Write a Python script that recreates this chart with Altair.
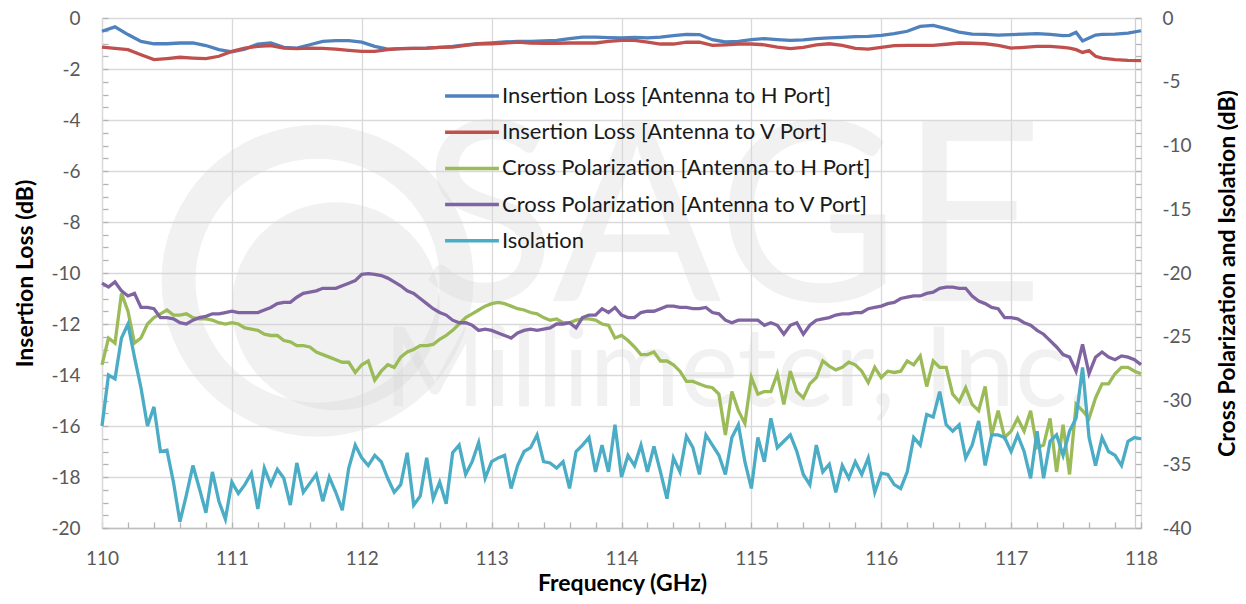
import altair as alt
import pandas as pd

# ---------------- data ----------------
SERIES = [
    "Insertion Loss [Antenna to H Port]",
    "Insertion Loss [Antenna to V Port]",
    "Cross Polarization [Antenna to H Port]",
    "Cross Polarization [Antenna to V Port]",
    "Isolation",
]
COLORS = ["#4F81BD", "#C0504D", "#9BBB59", "#8064A2", "#4BACC6"]

# insertion loss, left axis (dB)
IL_FREQ = [round(110 + 0.1 * i, 2) for i in range(75)] + [117.45, 117.5, 117.55, 117.6, 117.65, 117.7, 117.8, 117.9, 118.0]
IL_H = [
    -0.52, -0.35, -0.65, -0.92, -1.01, -1.01, -0.98, -0.98, -1.08, -1.24,
    -1.33, -1.22, -1.02, -0.98, -1.15, -1.18, -1.05, -0.92, -0.89, -0.89,
    -0.95, -1.11, -1.22, -1.20, -1.19, -1.18, -1.15, -1.11, -1.05, -1.01,
    -0.98, -0.94, -0.92, -0.92, -0.90, -0.88, -0.81, -0.75, -0.75, -0.77,
    -0.78, -0.76, -0.78, -0.75, -0.69, -0.64, -0.65, -0.85, -0.94, -0.92,
    -0.85, -0.81, -0.85, -0.88, -0.86, -0.81, -0.78, -0.76, -0.73, -0.72,
    -0.68, -0.61, -0.52, -0.33, -0.29, -0.42, -0.55, -0.63, -0.64, -0.67,
    -0.65, -0.63, -0.61, -0.64, -0.69,
    -0.68, -0.56, -0.90, -0.78, -0.67, -0.64, -0.63, -0.59, -0.50,
]
IL_V = [
    -1.14, -1.19, -1.24, -1.44, -1.63, -1.59, -1.54, -1.57, -1.59, -1.50,
    -1.31, -1.18, -1.11, -1.08, -1.18, -1.20, -1.18, -1.19, -1.22, -1.27,
    -1.31, -1.31, -1.24, -1.20, -1.19, -1.18, -1.15, -1.14, -1.07, -1.01,
    -1.01, -0.98, -0.95, -0.98, -0.99, -0.99, -0.98, -0.98, -0.98, -0.92,
    -0.88, -0.88, -0.95, -1.02, -1.02, -0.95, -0.95, -1.07, -1.05, -1.02,
    -1.02, -1.05, -1.14, -1.20, -1.15, -1.05, -1.01, -1.07, -1.19, -1.22,
    -1.15, -1.08, -1.07, -1.07, -1.07, -1.03, -0.98, -0.99, -1.01, -1.07,
    -1.18, -1.15, -1.11, -1.11, -1.15,
    -1.18, -1.24, -1.35, -1.28, -1.50, -1.57, -1.63, -1.66, -1.67,
]

# cross polarization and isolation, right axis (dB), 0.05 GHz steps
CP_FREQ = [round(110 + 0.05 * i, 2) for i in range(161)]
XPOL_H = [
    -27.2, -25.1, -25.5, -21.6, -23.0, -25.5, -25.1, -24.0, -23.5, -23.2,
    -22.9, -23.3, -23.3, -23.2, -23.5, -23.6, -23.6, -23.7, -23.9, -24.0,
    -23.9, -24.0, -24.3, -24.4, -24.5, -24.8, -24.9, -24.9, -25.3, -25.4,
    -25.7, -25.7, -25.8, -26.2, -26.4, -26.6, -26.8, -27.0, -27.0, -27.8,
    -27.2, -26.9, -28.4, -27.7, -27.2, -27.4, -26.6, -26.2, -26.0, -25.7,
    -25.7, -25.6, -25.2, -24.9, -24.5, -24.0, -23.5, -23.2, -22.9, -22.6,
    -22.4, -22.3, -22.4, -22.6, -22.8, -22.9, -23.1, -23.2, -23.5, -23.7,
    -23.6, -23.9, -23.9, -23.7, -23.6, -23.6, -23.7, -24.0, -24.1, -25.1,
    -24.9, -25.3, -25.8, -26.4, -26.4, -26.2, -26.9, -26.9, -27.2, -27.7,
    -28.5, -28.5, -28.7, -28.9, -29.0, -29.5, -32.7, -29.3, -30.8, -31.8,
    -28.2, -29.5, -29.3, -29.3, -27.9, -30.3, -27.7, -29.3, -29.8, -28.7,
    -28.2, -26.9, -27.3, -27.6, -27.4, -27.0, -27.2, -27.7, -28.6, -27.4,
    -28.2, -27.7, -27.8, -27.7, -26.9, -27.2, -26.5, -28.9, -26.9, -27.4,
    -27.4, -29.5, -30.1, -29.0, -30.3, -30.8, -28.9, -32.7, -30.8, -32.9,
    -32.4, -31.4, -32.4, -30.8, -33.7, -33.5, -31.4, -35.6, -31.9, -35.8,
    -30.3, -30.8, -31.4, -29.8, -28.7, -28.7, -27.9, -27.4, -27.4, -27.7,
    -27.9,
]
XPOL_V = [
    -20.8, -21.1, -20.7, -21.4, -21.8, -21.6, -22.7, -22.7, -22.8, -23.5,
    -23.5, -23.6, -23.9, -24.0, -23.7, -23.5, -23.4, -23.2, -23.2, -23.1,
    -23.0, -23.1, -23.1, -23.1, -23.1, -22.9, -22.7, -22.4, -22.3, -22.3,
    -21.9, -21.6, -21.5, -21.4, -21.2, -21.2, -21.2, -21.0, -20.8, -20.6,
    -20.1, -20.05, -20.1, -20.2, -20.4, -20.7, -21.0, -21.4, -21.6, -22.0,
    -22.4, -22.8, -23.1, -23.3, -23.7, -23.9, -23.9, -24.1, -24.5, -24.4,
    -24.5, -24.7, -24.9, -25.1, -24.7, -24.5, -24.4, -24.5, -24.4, -24.3,
    -24.0, -24.0, -23.9, -24.3, -23.5, -23.3, -23.3, -22.8, -23.1, -22.7,
    -23.3, -23.5, -23.5, -23.1, -23.0, -23.0, -22.8, -22.6, -22.6, -22.7,
    -22.7, -22.8, -22.8, -22.7, -23.1, -23.2, -23.7, -23.9, -23.7, -23.7,
    -23.7, -23.7, -24.1, -23.9, -24.1, -24.8, -24.1, -23.9, -24.8, -24.1,
    -23.7, -23.6, -23.5, -23.3, -23.2, -23.2, -23.1, -23.1, -22.8, -22.7,
    -22.6, -22.4, -22.3, -22.0, -21.9, -21.8, -21.8, -21.6, -21.5, -21.2,
    -21.1, -21.1, -21.2, -21.2, -21.8, -22.2, -22.4, -22.7, -22.8, -23.5,
    -23.5, -23.6, -23.9, -24.1, -24.5, -24.8, -25.3, -25.8, -26.4, -26.6,
    -27.7, -25.6, -27.9, -26.6, -26.2, -26.6, -26.8, -26.5, -26.6, -26.8,
    -27.2,
]
ISOLATION = [
    -32.0, -28.0, -28.3, -25.1, -24.0, -26.6, -29.0, -32.0, -30.5, -34.0,
    -33.9, -36.4, -39.5, -37.4, -35.1, -36.9, -38.8, -35.6, -37.9, -39.3,
    -36.4, -37.3, -36.6, -35.7, -38.5, -35.3, -36.6, -35.4, -36.1, -38.2,
    -34.9, -37.2, -36.5, -35.8, -37.9, -36.0, -37.2, -38.6, -35.3, -33.5,
    -34.5, -35.1, -34.3, -34.8, -36.1, -37.2, -36.6, -34.1, -38.2, -37.5,
    -34.5, -37.7, -36.4, -38.1, -34.1, -33.5, -35.8, -34.8, -33.3, -36.1,
    -34.8, -34.5, -34.3, -36.9, -35.1, -34.0, -33.7, -32.7, -34.8, -34.9,
    -35.3, -34.8, -36.9, -34.0, -33.5, -32.9, -35.6, -33.5, -35.6, -31.9,
    -36.0, -34.3, -35.1, -33.5, -35.6, -33.6, -35.6, -37.7, -34.5, -35.6,
    -32.8, -33.7, -35.8, -32.7, -33.5, -34.3, -35.8, -32.9, -31.9, -34.8,
    -36.9, -32.9, -34.8, -31.4, -33.7, -33.2, -32.7, -34.0, -35.8, -36.6,
    -33.5, -35.6, -35.0, -37.2, -35.1, -36.1, -34.8, -35.8, -34.5, -37.2,
    -35.7, -35.8, -36.6, -36.9, -35.6, -32.9, -33.5, -31.1, -31.3, -29.3,
    -31.9, -32.4, -31.9, -34.5, -33.5, -31.6, -35.1, -32.7, -32.7, -32.9,
    -34.0, -32.7, -34.0, -36.1, -32.4, -36.1, -33.2, -32.7, -34.3, -32.4,
    -31.4, -27.4, -32.9, -35.1, -32.9, -34.0, -34.3, -35.1, -33.2, -32.9,
    -33.0,
]

X_TICKS = [110, 111, 112, 113, 114, 115, 116, 117, 118]
X_MINOR = [round(110 + 0.2 * i, 1) for i in range(41)]
LEFT_TICKS = [0, -2, -4, -6, -8, -10, -12, -14, -16, -18, -20]
LEFT_MINOR = [round(-0.5 * i, 1) for i in range(41)]
RIGHT_TICKS = [0, -5, -10, -15, -20, -25, -30, -35, -40]
RIGHT_MINOR = [-i for i in range(41)]

# faint "SAGE Millimeter, Inc." watermark behind the plot
WATERMARK_TEXT = ["SAGE", "Millimeter, Inc."]
WATERMARK_X = [114.85, 114.9]
WATERMARK_Y = [-11.1, -15.2]
WATERMARK_SIZE = [250, 110]
LOGO_X = [111.66, 111.8]
LOGO_Y = [-10.3, -11.3]
LOGO_INNER = [122, 0]
LOGO_OUTER = [156, 104]

# ---------------- frames ----------------
il_df = pd.concat([
    pd.DataFrame({"freq": IL_FREQ, "value": IL_H, "series": SERIES[0]}),
    pd.DataFrame({"freq": IL_FREQ, "value": IL_V, "series": SERIES[1]}),
])
cp_df = pd.concat([
    pd.DataFrame({"freq": CP_FREQ, "value": XPOL_H, "series": SERIES[2]}),
    pd.DataFrame({"freq": CP_FREQ, "value": XPOL_V, "series": SERIES[3]}),
    pd.DataFrame({"freq": CP_FREQ, "value": ISOLATION, "series": SERIES[4]}),
])
wm_df = pd.DataFrame({"text": WATERMARK_TEXT, "freq": WATERMARK_X, "value": WATERMARK_Y, "size": WATERMARK_SIZE})
logo_df = pd.DataFrame({"freq": LOGO_X, "value": LOGO_Y, "r0": LOGO_INNER, "r1": LOGO_OUTER})

W, H = 1039, 510
FONT = "Lato"
LABEL_COLOR = "#595959"
GRID = "#d9d9d9"
TICK = "#b3b3b3"
TITLE_SIZE = 23
HYPHEN = "replace(datum.label, '\u2212', '-')"

x_scale = alt.Scale(domain=[110, 118], nice=False, zero=False)
y_left = alt.Scale(domain=[-20, 0], nice=False, zero=False)
y_right = alt.Scale(domain=[-40, 0], nice=False, zero=False)

color = alt.Color(
    "series:N",
    scale=alt.Scale(domain=SERIES, range=COLORS),
    legend=alt.Legend(
        title=None, orient="none", legendX=341, legendY=65,
        symbolType="stroke", symbolStrokeWidth=3.5, symbolSize=2900,
        clipHeight=26, rowPadding=10.2,
        labelFont=FONT, labelFontSize=22, labelColor="#1a1a1a",
        labelOffset=1, labelLimit=600,
    ),
)

logo = alt.Chart(logo_df).mark_arc(color="#d6d6d6", opacity=0.33).encode(
    x=alt.X("freq:Q", scale=x_scale, axis=None),
    y=alt.Y("value:Q", scale=y_left, axis=None),
    theta=alt.value(0),
    theta2=alt.value(6.2832),
    radius=alt.Radius("r1:Q", scale=None),
    radius2=alt.Radius2("r0:Q"),
)

watermark = alt.Chart(wm_df).mark_text(
    font=FONT, color="#d6d6d6", opacity=0.33, baseline="alphabetic", align="center"
).encode(
    x=alt.X("freq:Q", scale=x_scale, axis=None),
    y=alt.Y("value:Q", scale=y_left, axis=None),
    text="text:N",
    size=alt.Size("size:Q", scale=None, legend=None),
)

minor_left = alt.Chart(il_df).mark_point(opacity=0).encode(
    x=alt.X("freq:Q", scale=x_scale, axis=None),
    y=alt.Y("value:Q", scale=y_left, axis=alt.Axis(
        orient="left", values=LEFT_MINOR, labels=False, grid=False,
        domain=True, domainOpacity=0,
        ticks=True, tickSize=6, tickColor=TICK, tickWidth=1.3, offset=-6, title=None)),
)
minor_right = alt.Chart(il_df).mark_point(opacity=0).encode(
    x=alt.X("freq:Q", scale=x_scale, axis=None),
    y=alt.Y("value:Q", scale=y_right, axis=alt.Axis(
        orient="right", values=RIGHT_MINOR, labels=False, grid=False, domain=True,
        domainColor="#cfcfcf", domainWidth=1.3,
        ticks=True, tickSize=6, tickColor=TICK, tickWidth=1.3, offset=-6, title=None)),
)
minor_x = alt.Chart(il_df).mark_point(opacity=0).encode(
    x=alt.X("freq:Q", scale=x_scale, axis=alt.Axis(
        orient="bottom", values=X_MINOR, labels=False, grid=False,
        domain=True, domainOpacity=0,
        ticks=True, tickSize=6, tickColor=TICK, tickWidth=1.3, offset=-6, title=None)),
    y=alt.Y("value:Q", scale=y_left, axis=None),
)

il_lines = alt.Chart(il_df).mark_line(strokeWidth=3.3).encode(
    x=alt.X("freq:Q", scale=x_scale, axis=alt.Axis(
        orient="bottom", values=X_TICKS, format="d", grid=True, gridColor=GRID, gridWidth=1.3,
        domain=True, domainColor="#bfbfbf", domainWidth=1.6, ticks=False, labelFlush=False,
        labelFont=FONT, labelFontSize=19, labelColor=LABEL_COLOR, labelPadding=21,
        title="Frequency (GHz)", titleFont=FONT, titleFontSize=TITLE_SIZE, titleFontWeight="bold",
        titleColor="#000000", titleX=520, titleY=55, titleBaseline="middle", titleAlign="center")),
    y=alt.Y("value:Q", scale=y_left, axis=alt.Axis(
        orient="left", values=LEFT_TICKS, format="d", labelExpr=HYPHEN,
        grid=True, gridColor=GRID, gridWidth=1.3, labelFlush=False,
        domain=True, domainColor=GRID, domainWidth=1.3, ticks=False,
        labelFont=FONT, labelFontSize=19, labelColor=LABEL_COLOR, labelPadding=22,
        title="Insertion Loss (dB)", titleFont=FONT, titleFontSize=TITLE_SIZE, titleFontWeight="bold",
        titleColor="#000000", titleAngle=270, titleX=-77, titleY=255,
        titleBaseline="middle", titleAlign="center")),
    color=color,
)

cp_lines = alt.Chart(cp_df).mark_line(strokeWidth=3.3).encode(
    x=alt.X("freq:Q", scale=x_scale, axis=None),
    y=alt.Y("value:Q", scale=y_right, axis=alt.Axis(
        orient="right", values=RIGHT_TICKS, format="d", labelExpr=HYPHEN, labelFlush=False,
        grid=False, domain=False, ticks=False,
        labelFont=FONT, labelFontSize=19, labelColor=LABEL_COLOR, labelPadding=21,
        title="Cross Polarization and Isolation (dB)", titleFont=FONT, titleFontSize=TITLE_SIZE,
        titleFontWeight="bold", titleColor="#000000", titleAngle=270, titleX=86, titleY=255,
        titleBaseline="middle", titleAlign="center")),
    color=color,
)

chart = alt.layer(
    logo, watermark, minor_left, minor_right, minor_x, il_lines, cp_lines
).resolve_scale(
    y="independent"
).resolve_axis(
    y="independent", x="independent"
).properties(
    width=W, height=H,
    padding={"left": 94, "top": 10, "right": 97, "bottom": 68},
    autosize=alt.AutoSizeParams(type="none"),
    background="white",
).configure_view(stroke=None)

chart.save("out.html", embed_options={"renderer": "svg", "actions": False})
